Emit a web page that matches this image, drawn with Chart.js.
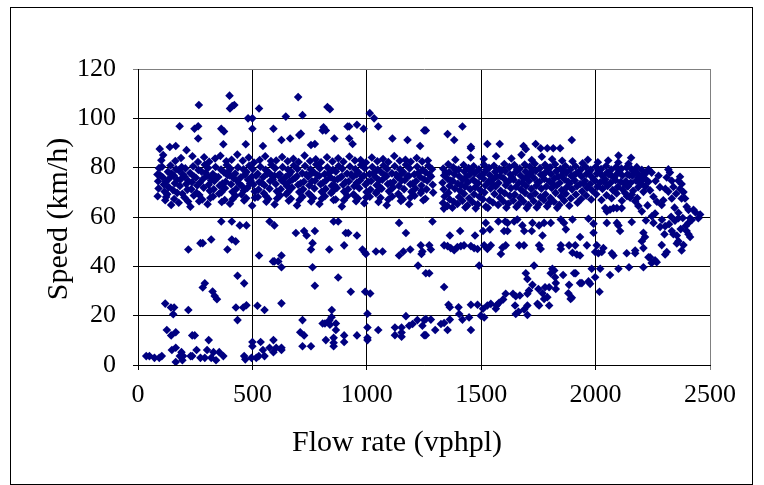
<!DOCTYPE html>
<html>
<head>
<meta charset="utf-8">
<script src="https://cdn.jsdelivr.net/npm/chart.js@4/dist/chart.umd.min.js"></script>
<style>
  body { margin: 0; background: #fff; }
  #wrap { position: relative; width: 764px; height: 485px; }
  #frame { position: absolute; left: 10px; top: 7px; width: 741px; height: 476px; border: 1px solid #000; pointer-events: none; }
  canvas { position: absolute; left: 0; top: 0; }
</style>
</head>
<body>
<div id="wrap">
  <canvas id="myChart" width="764" height="485"></canvas>
  <div id="frame"></div>
</div>
<script>
// [flow (vphpl), speed (km/h)]
let upperPoints = [
  [400,109.2],[266,105.4],[402,104],[412,105],[421,105.4],[529,104],[481,100],[500,100],[500,95.8],[182,96.8],
  [247,95.8],[263,96.8],[364,95.8],[376,94.7],[592,95.8],[263,91.8],[165,88.8],[373,89.5],[471,89.5],[546,88.8],
  [700,108.6],[828,104.6],[839,103.7],[646,100.7],[719,101.3],[1013,102.1],[1032,100],[1050,96.7],[811,96.4],[807,95.1],
  [821,95.1],[916,96.7],[923,96.7],[957,97.4],[986,95.8],[1251,95.1],[705,93.2],[712,93.8],[627,91.2],[665,91.8],
  [858,91.8],[923,91.8],[938,89.6],[1112,91.8],[1178,91.2],[1233,88.8],[756,89.2],[773,89.6],
  [1418,96.7],[1353,93.6],[1382,91.2],[1258,95.1],[1455,88.5],[1455,87.9],[1527,89.6],[1581,89.6],[1685,88.8],[1695,87.5],
  [1738,89.6],[1760,87.9],[1789,87.9],[1815,87.9],[1845,87.9],[1896,91.2],[2100,84.9],[2155,84]
];

let bandLeft = [
  [85,77.2],[88,74.5],[92,79.8],[90,71.6],[95,87.6],[86,68.4],
  [108,76.1],[113,73.2],[105,80.4],[116,70.3],[110,85.1],[119,66.8],[102,83],
  [131,78.3],[137,75.6],[134,72.1],[142,80.9],[128,69.2],[139,88.4],[145,64.9],
  [156,76.8],[161,73.7],[166,79.4],[153,70.9],[163,82.7],[158,67.3],
  [179,78.9],[186,75.2],[183,72.6],[191,80.2],[178,65.8],[188,83.9],[194,69.4],
  [204,76.3],[211,73.4],[207,79.7],[216,71.1],[212,87.1],[203,67.9],
  [228,77.8],[236,74.1],[233,71.3],[241,80.6],[229,64.2],[238,84.6],[244,68.7],
  [253,75.9],[259,72.8],[264,79.1],[256,69.8],[262,82.3],[267,66.4],
  [278,78.4],[284,75.4],[287,71.9],[292,81.2],[281,67.1],[289,84.2],
  [302,76.6],[309,73.1],[306,79.9],[314,70.6],[311,82.4],[304,65.2],[318,76.2],
  [327,77.4],[334,74.6],[331,71.2],[339,80.3],[328,68.3],[337,83.7],
  [351,76.2],[357,72.7],[363,79.2],[354,69.4],[360,84.8],[366,66.1],
  [376,78.1],[383,74.3],[380,71.7],[388,81.1],[379,66.9],[386,82.6],[392,76.9],
  [401,76.8],[407,73.3],[404,79.6],[413,70.2],[409,83.2],[402,65.4],
  [425,77.6],[432,74.8],[429,71.4],[437,80.1],[426,68.6],[434,85.3],
  [450,76.1],[456,72.4],[461,79.3],[453,69.1],[458,82.8],[464,66.7],
  [474,78.2],[481,75.1],[478,71.8],[486,80.8],[473,67.6],[484,84.1],[490,73.6],
  [498,76.4],[505,73.2],[502,79.4],[510,70.3],[507,82.1],[499,64.6],
  [523,77.5],[530,74.2],[527,71.1],[535,80.4],[524,68.1],[532,83.1],
  [547,76.1],[553,72.9],[558,79.1],[550,69.6],[556,84.6],[561,66.2],
  [571,78.1],[578,74.6],[575,71.5],[583,81.2],[570,67.3],[581,82.7],[587,76.6],
  [596,76.7],[602,73.4],[599,79.8],[607,70.4],[604,82.9],[597,65.1],
  [620,77.3],[627,74.9],[624,71.3],[632,80.2],[621,68.7],[630,84.3],
  [645,76.2],[651,72.6],[656,79.2],[648,69.3],[654,82.6],[659,66.6],[662,74.4],
  [669,78.3],[676,75.2],[673,71.9],[681,80.9],[668,67.4],[679,83.6],
  [694,76.5],[700,73.1],[697,79.5],[705,70.1],[702,82.3],[695,64.7],
  [718,77.7],[725,74.3],[722,71.2],[730,80.7],[719,68.2],[728,84.9],
  [743,76.3],[749,72.8],[754,79.3],[746,69.5],[752,82.7],[757,66.3],[760,77.9],
  [767,78.2],[774,74.7],[771,71.6],[779,81.3],[766,67.7],[777,83.4],
  [792,76.6],[798,73.3],[795,79.7],[803,70.2],[800,82.2],[793,65.3],
  [816,77.4],[823,74.9],[820,71.4],[828,80.1],[817,68.4],[826,84.2],
  [841,76.1],[847,72.7],[852,79.1],[844,69.7],[850,82.5],[855,66.9],[858,75.1],
  [865,78.4],[872,75.3],[869,71.8],[877,80.7],[864,67.1],[875,83.8],
  [890,76.4],[896,73.1],[893,79.6],[901,70.3],[898,82.4],[891,64.3],
  [914,77.6],[921,74.4],[918,71.3],[926,80.5],[915,68.5],[924,84.5],
  [939,76.2],[945,72.5],[950,79.4],[942,69.2],[948,82.9],[953,66.4],[956,77.3],
  [963,78.1],[970,74.8],[967,71.7],[975,81.1],[962,67.5],[973,83.1],
  [988,76.7],[994,73.2],[991,79.8],[999,70.1],[996,82.1],[989,65.6],
  [1012,77.4],[1019,74.6],[1016,71.1],[1024,80.3],[1013,68.2],[1022,84.1],
  [1037,76.3],[1043,72.9],[1048,79.2],[1040,69.6],[1046,82.6],[1051,66.1],[1054,74.9],
  [1061,78.3],[1068,75.1],[1065,71.5],[1073,80.9],[1060,67.8],[1071,83.5],
  [1086,76.5],[1092,73.4],[1089,79.5],[1097,70.4],[1094,82.3],[1087,64.8],
  [1110,77.7],[1117,74.2],[1114,71.9],[1122,80.6],[1111,68.3],[1120,84.7],
  [1135,76.1],[1141,72.6],[1146,79.3],[1138,69.4],[1144,82.8],[1149,66.5],[1152,77.6],
  [1159,78.2],[1166,74.9],[1163,71.3],[1171,81.2],[1158,67.2],[1169,83.2],
  [1184,76.6],[1190,73.3],[1187,79.7],[1195,70.2],[1192,82.4],[1185,65.2],
  [1208,77.3],[1215,74.5],[1212,71.6],[1220,80.4],[1209,68.6],[1218,83.9],
  [1233,76.2],[1239,72.8],[1244,79.1],[1236,69.7],[1242,82.5],[1247,66.8],
  [1257,78.1],[1264,74.7],[1261,71.2],[1269,80.8],[1256,67.4],[1267,82.9],
  [1281,76.4],[1288,73.1],[1285,79.4],[1290,69.9],
  // denser core
  [97,76.9],[122,74.3],[147,77.6],[171,75.1],[196,77.2],[220,74.6],[245,76.4],[270,73.9],[295,77.9],[320,74.8],
  [344,76.1],[369,73.6],[394,78.3],[418,75.7],[443,73.5],[467,77.1],[492,74.9],[516,76.7],[541,73.8],[565,77.6],
  [589,75.3],[613,76.9],[638,74.1],[662,77.4],[687,75.8],[711,73.7],[736,77.2],[760,74.5],[785,76.8],[809,73.9],
  [834,77.7],[858,72.9],[883,75.9],[907,74.2],[932,77.3],[956,73.9],[981,76.4],[1005,74.3],[1030,77.8],[1054,72.4],
  [1079,76.9],[1103,73.8],[1128,77.2],[1152,74.8],[1177,76.5],[1201,73.6],[1226,77.9],[1250,75.3],[1274,77.1],
  [123,68.1],[171,69.8],[219,66.3],[268,68.9],[316,67.7],[365,70.1],[414,67.3],[462,70.6],[511,67.8],[560,68.4],
  [608,67.5],[657,70.2],[706,66.9],[754,68.8],[803,67.4],[851,70.4],[900,66.8],[948,68.6],[997,67.9],[1045,70.3],
  [1094,67.1],[1142,68.7],[1191,67.9],[1239,70.6]
];

let bandRight = [
  [1334,79.6],[1338,76.8],[1331,73.9],[1336,71.2],[1340,68.3],[1333,65.7],[1337,63.4],
  [1356,81.4],[1360,78.2],[1354,75.4],[1362,72.6],[1357,69.8],[1363,67.1],[1352,64.5],
  [1378,80.1],[1383,77.3],[1376,74.6],[1385,71.5],[1380,66.2],[1374,63.8],[1387,83.2],
  [1401,79.2],[1405,76.4],[1398,73.5],[1407,70.7],[1403,68.1],[1396,65.3],
  [1423,81.1],[1427,78.4],[1420,75.2],[1429,72.3],[1425,69.4],[1418,66.6],[1431,63.9],
  [1445,79.8],[1449,77.1],[1442,74.1],[1452,71.3],[1447,67.6],[1440,64.7],[1454,84.1],
  [1467,80.6],[1472,77.8],[1465,75.1],[1474,72.1],[1469,69.2],[1462,66.1],[1476,63.5],
  [1490,79.3],[1494,76.5],[1487,73.7],[1496,70.9],[1492,68.2],[1485,65.1],
  [1512,81.2],[1516,78.1],[1509,75.6],[1518,72.8],[1514,69.9],[1507,67.2],[1520,64.2],[1511,83.5],
  [1534,79.9],[1538,76.9],[1531,74.3],[1541,71.6],[1536,66.8],[1529,63.7],
  [1556,80.8],[1561,78.3],[1553,75.3],[1563,72.4],[1558,69.3],[1551,65.9],[1565,84.6],
  [1579,79.4],[1583,76.6],[1576,73.8],[1585,70.6],[1581,67.9],[1574,64.9],
  [1601,81.5],[1605,78.6],[1598,75.7],[1607,72.9],[1603,69.6],[1596,66.4],[1610,63.8],
  [1623,80.2],[1627,77.2],[1620,74.4],[1630,71.7],[1625,68.6],[1618,65.4],[1632,83.7],
  [1645,81.1],[1650,78.1],[1642,75.1],[1652,72.2],[1647,69.1],[1640,66.7],[1654,64.1],
  [1668,79.6],[1672,76.8],[1665,73.9],[1674,71.1],[1670,67.8],[1663,65.1],[1676,85.2],
  [1690,81.3],[1694,78.4],[1687,75.5],[1696,72.6],[1692,69.7],[1685,66.3],[1699,63.6],
  [1712,80.4],[1716,77.5],[1709,74.6],[1719,71.4],[1714,68.4],[1707,64.8],[1721,83.1],
  [1734,81.6],[1739,78.7],[1731,75.8],[1741,72.7],[1736,69.5],[1729,66.5],[1743,63.9],
  [1757,79.8],[1761,77.1],[1754,74.2],[1763,71.5],[1759,68.1],[1752,65.2],[1765,84.4],
  [1779,81.2],[1783,78.2],[1776,75.4],[1785,72.4],[1781,69.2],[1774,66.9],[1788,64.3],
  [1801,80.1],[1805,77.4],[1798,74.5],[1808,71.8],[1803,67.7],[1796,65.5],[1810,83.4],
  [1823,81.4],[1828,78.5],[1820,75.6],[1830,72.8],[1825,69.8],[1818,66.2],[1832,63.7],
  [1846,79.5],[1850,76.7],[1843,73.8],[1852,70.9],[1848,68.3],[1841,64.9],[1854,82.8],
  [1868,80.7],[1872,77.9],[1865,75.2],[1874,72.1],[1870,69.4],[1863,66.6],
  [1890,79.3],[1894,76.6],[1887,73.6],[1897,71.2],[1892,67.5],[1885,64.6],[1899,82.6],
  [1912,80.6],[1916,77.7],[1909,74.8],[1919,72.5],[1914,69.1],[1921,65.8],
  [1935,79.2],[1939,76.4],[1932,73.4],[1941,70.4],[1937,67.3],[1943,81.8],
  [1957,80.3],[1961,77.5],[1954,74.6],[1963,71.9],[1959,68.7],[1966,83.2],
  [1979,79.1],[1983,76.3],[1976,73.3],[1985,70.8],[1981,67.1],
  [2001,80.4],[2006,77.6],[1998,74.7],[2008,72.3],[2003,69.2],[2010,82.2],
  [2024,79.4],[2028,76.8],[2021,74.1],[2030,71.4],[2026,66.9],
  [2046,80.7],[2050,77.9],[2043,75.2],[2052,72.6],[2048,68.8],[2055,82.9],
  [2068,79.2],[2072,76.5],[2065,73.8],[2075,70.9],[2070,67.6],
  [2090,80.3],[2095,77.6],[2087,74.9],[2097,72.2],[2092,69.5],[2099,82.1],
  [2113,79.6],[2117,76.8],[2110,74.2],[2119,71.1],[2115,66.6],
  [2135,80.1],[2139,77.3],[2132,74.5],[2141,72.4],[2137,68.4],[2144,81.6],
  [2157,79.4],[2161,76.7],[2154,73.9],[2164,70.6],
  [2180,80.2],[2184,77.5],[2177,74.7],[2186,72.1],[2182,67.7],
  [2202,79.1],[2206,76.4],[2199,73.6],[2209,70.2],
  [2224,78.2],[2221,75.1],[2218,72.3],
  // denser core
  [1345,77.9],[1367,74.8],[1390,79.1],[1412,73.1],[1434,76.2],[1457,78.7],[1479,73.9],[1501,76.9],[1524,79.3],[1546,73.6],
  [1568,76.4],[1590,78.9],[1613,74.2],[1635,76.1],[1657,79.4],[1680,73.8],[1702,76.2],[1724,78.8],[1747,74.1],[1769,76.9],
  [1791,79.6],[1813,73.4],[1836,76.3],[1858,78.6],[1880,74.3],[1903,76.8],[1925,78.1],[1947,73.6],[1970,77.9],[1992,75.1],
  [2014,78.4],[2036,74.3],[2059,77.2],[2081,75.9],[2103,78.6],[2126,73.5],[2148,76.9],[2170,78.8],[2192,74.8],[2212,77.5]
];

let tailPoints = [
  [2231,79.3],[2245,78],[2275,76.7],[2318,79.3],[2325,78],[2311,76],[2369,76.3],[2362,74.7],[2333,74.7],[2187,76],
  [2202,75],[2231,74.3],[2376,73.4],[2369,71.4],[2384,70.1],[2391,67.5],[2376,67.5],[2398,64.2],[2406,62.9],[2428,62.9],
  [2457,61],[2333,67.5],[2296,66.8],[2289,64.9],[2253,68.2],[2238,70.8],[2042,63.6],[2049,62.3],[2078,63.6],[2093,63.6],
  [2114,63.6],[2202,62.3],[2063,63],[2129,69.7],[2158,69.1],[2151,67.8],[2173,66.4],[2187,64.5],
  [2262,74.6],[2281,72.1],[2305,71.4],[2340,72.2],[2352,69.4],[2318,70.3],[2268,66.2],[2345,63.8],[2362,61.7],[2381,59.6],
  [2420,58.8],[2437,61.8],[2394,56.4],[2372,55.1],[2330,60.1],[2290,58.9],[2260,61.4],[2227,64.7],[2246,60.3],[2220,58.6]
];

let middlePoints = [
  [364,58.2],[410,58.2],[445,56.6],[474,56.6],[575,58.2],[596,56.6],[320,50.9],[273,49.4],[283,49.4],[410,50.9],
  [427,50.1],[220,46.8],[391,46.8],[529,44.4],[596,42],[590,42],[435,36.2],[464,33.1],[292,33.1],[283,31.4],
  [326,29.8],[335,28],[345,26.7],[119,24.9],[144,23.3],[158,23.3],[154,20.6],[220,22.3],[428,23.3],[460,23.3],
  [474,24.2],[522,24],[553,22.3],
  [855,58.2],[875,58.2],[1141,57.6],[690,53.5],[726,54.3],[737,52.5],[773,54.3],[908,53.5],[919,53.5],[957,52.5],
  [1171,53.5],[763,49.4],[756,46.8],[836,46.8],[901,48.5],[981,46.8],[991,45.7],[996,45],[1040,46],[1069,46],
  [1141,44.4],[1160,46],[1190,46.8],[1236,48.5],[1243,46],[1239,45],[627,44.4],[613,42],[627,39.6],[763,39.6],
  [875,35.5],[1224,40.3],[1258,37.2],[773,32.1],[930,29.7],[993,29.7],[1015,29],[627,25],[847,22.3],[1003,20.8],
  [1287,58.2],[1520,57.6],[1508,54.3],[1538,55],[1575,58.2],[1605,58.2],[1615,57.6],[1644,58.2],[1658,59],[1680,56.6],
  [1688,54.3],[1724,57.6],[1721,54.3],[1753,56.6],[1775,57.6],[1768,52.5],[1804,57.6],[1848,59],[1862,57.6],[1870,55],
  [1899,59],[1600,54.3],[1615,54.3],
  [1273,48.5],[1280,46.8],[1338,48.5],[1353,48.2],[1367,47.4],[1382,46.5],[1396,47.8],[1411,48.2],[1425,48.5],[1455,48.2],
  [1469,47.4],[1484,47],[1513,48.5],[1542,48.5],[1527,47],[1363,52.5],[1408,54.3],[1473,52.5],[1593,47.6],[1607,48.5],
  [1666,48.5],[1687,48.5],[1753,48.5],[1760,47],[1848,48.5],[1884,48.5],[1848,47],[1899,45.5],[1586,45],[1491,40.3],
  [1273,37.2],[1731,40.3],
  [1695,37.2],[1702,34.9],[1724,32.5],[1750,30.8],[1768,29.1],[1779,31.5],[1797,31.5],[1811,39],[1819,38.3],[1804,37.2],
  [1823,35.6],[1826,33.2],[1826,30.8],[1858,36.5],[1884,32.5],[1881,29.1],[1891,26.8],[1906,37.2],[1338,31.6],
  [1357,24.4],[1363,23.4],[1401,23.4],[1404,20.7],[1455,24.4],[1484,24.4],[1508,22.8],[1527,24.1],[1542,24.8],[1564,22.8],
  [1567,24.1],[1578,25.2],[1596,26.6],[1607,28.9],[1639,28.9],[1651,27.9],[1669,28.2],[1648,24.1],[1651,20.7],[1663,21.6],
  [1688,22.5],[1702,20.3],[1702,24.1],[1702,28.9],[1709,30.2],[1746,24.8],[1753,24.1],[1775,26.8],[1789,27.5],[1797,24.1],
  [1969,59.3],[1991,57.3],[2049,57.6],[2093,57.6],[2100,56.6],[2158,58],[2253,57.6],[2282,56],[2304,56.3],[2321,57.1],
  [2347,58.5],[2362,59.5],[2406,57.6],[2413,59.5],[2449,59.5],[2107,54.3],[1991,53.6],[2209,53.6],[2216,51.9],[2202,50.2],
  [2333,54.3],[2340,53],[2355,52.5],[2398,54.3],[2406,53],[2413,51.9],[2301,53],
  [1932,51.9],[1962,48.5],[1911,48.5],[1918,44.8],[1932,44.4],[2005,48.5],[1998,45.8],[2012,45.3],[2034,47.4],[2027,45.8],
  [2071,45.3],[2078,44.4],[2136,45.3],[2173,46.4],[2173,45.3],[2209,47.4],[2289,48.6],[2362,50.2],[2384,48.6],[2376,46.4],
  [2355,49.3],[2311,45.8],[2304,44.8],[2231,43.7],[2238,43.7],[2260,42.4],[2245,41.4],[2267,41.7],
  [1983,39],[2020,39],[2100,39],[2146,39.6],[2209,39.6],[1913,37.2],[1998,35.6],[2063,36.5],[1932,33.2],[1940,33.2],
  [1969,33.9],[1976,32.9],[1896,27.3],[2017,29.7]
];

let lowPoints = [
  [435,18.2],[126,14.2],[145,12],[165,13.3],[237,12],[248,12],[309,10.1],[148,6.1],[165,7],[190,5.2],
  [183,3.6],[197,3.6],[194,1.9],[165,1.2],[36,3.6],[50,3.6],[72,2.9],[93,2.9],[104,3.6],[230,3.6],
  [237,3.6],[256,6.1],[273,2.9],[292,2.9],[320,2.9],[302,6.1],[330,5.2],[355,5.2],[341,1.9],[373,3.6],
  [464,3.6],[469,2.3],[500,9.3],[500,7.6],[496,2.9],[517,2.9],[536,9.3],[546,6.1],[528,3.6],[553,3.6],
  [575,7],[592,10.1],[592,5.2],[604,7],
  [1171,19.8],[719,18.2],[807,16.8],[817,16.8],[836,18],[846,19.4],[839,16.3],[865,16.8],[865,14.2],[1003,15.2],
  [1050,14.2],[1123,15.2],[1152,15.2],[1152,13.2],[1152,11.5],[1123,12.1],[1185,15.9],[1200,16.6],[1221,18.2],[1251,18.2],
  [1243,15.9],[1251,12.1],[709,13.3],[726,12],[821,10.1],[855,11],[855,9],[855,7.6],[901,12],[901,9.3],
  [957,12],[1003,11],[1003,10.1],[627,7],[627,6.1],[719,7.6],[756,7.6],
  [1258,18.6],[1280,18.4],[1324,16.6],[1338,17],[1363,18.4],[1418,18.4],[1447,19.3],[1498,20],[1513,19.3],[1299,14.2],
  [1353,14.2],[1455,14.2],[1258,12.1]
];

let xTicks = [0, 500, 1000, 1500, 2000, 2500];
let yTicks = [0, 20, 40, 60, 80, 100, 120];

let allPoints = upperPoints.concat(bandLeft, bandRight, tailPoints, middlePoints, lowPoints)
  .map(p => ({ x: p[0], y: p[1] }));

let serif = "'Liberation Serif', 'Times New Roman', serif";

// axis titles drawn by hand so they sit where the original has them
let axisTitles = {
  id: 'axisTitles',
  afterDraw(chart) {
    let ctx = chart.ctx;
    ctx.save();
    ctx.fillStyle = '#000';
    ctx.font = '30px ' + serif;
    ctx.textAlign = 'center';
    ctx.textBaseline = 'alphabetic';
    ctx.fillText('Flow rate (vphpl)', 397, 451);
    ctx.translate(67, 219);
    ctx.rotate(-Math.PI / 2);
    ctx.fillText('Speed (km/h)', 0, 0);
    ctx.restore();
  }
};

new Chart(document.getElementById('myChart'), {
  type: 'scatter',
  data: {
    datasets: [{
      data: allPoints,
      backgroundColor: '#000080',
      borderColor: '#000080',
      borderWidth: 0,
      pointStyle: 'rectRot',
      pointRadius: 4.3,
      pointHoverRadius: 4.3
    }]
  },
  options: {
    responsive: false,
    animation: false,
    devicePixelRatio: 1,
    layout: { padding: { left: 0, right: 54, top: 69, bottom: 0 } },
    plugins: { legend: { display: false }, tooltip: { enabled: false } },
    scales: {
      x: {
        type: 'linear',
        min: 0, max: 2500,
        afterBuildTicks: s => { s.ticks = xTicks.map(v => ({ value: v })); },
        afterFit: s => { s.height = 120; },
        ticks: { color: '#000', font: { family: serif, size: 26 }, padding: 10, maxRotation: 0, callback: v => String(v) },
        grid: { color: c => (c.tick && c.tick.value === 2500 ? '#808080' : '#000'), lineWidth: 1, tickLength: 5 },
        border: { color: '#000', width: 1 }
      },
      y: {
        min: 0, max: 120,
        afterBuildTicks: s => { s.ticks = yTicks.map(v => ({ value: v })); },
        afterFit: s => { s.width = 138; },
        ticks: { color: '#000', font: { family: serif, size: 26 }, padding: 17, callback: v => String(v) },
        grid: { color: c => (c.tick && c.tick.value === 120 ? '#808080' : '#000'), lineWidth: 1, tickLength: 5 },
        border: { color: '#000', width: 1 }
      }
    }
  },
  plugins: [axisTitles]
});
</script>
</body>
</html>
